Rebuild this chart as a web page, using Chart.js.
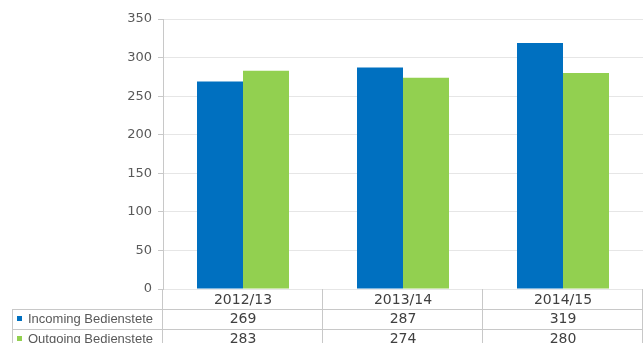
<!DOCTYPE html>
<html>
<head>
<meta charset="utf-8">
<script src="https://cdn.jsdelivr.net/npm/chart.js@4"></script>
<style>
  html, body { margin: 0; padding: 0; background: #fff; }
  #wrap { width: 644px; height: 343px; }
</style>
</head>
<body>
<div id="wrap"><canvas id="myChart" width="644" height="343"></canvas></div>
<script>
// data
const years = ['2012/13', '2013/14', '2014/15'];
const incoming = [269, 287, 319];
const outgoing = [283, 274, 280];
const seriesNames = ['Incoming Bedienstete', 'Outgoing Bedienstete'];
const seriesColors = ['#0070C0', '#92D050'];

const lineColor = '#c8c8c8';

// draws the data table under the plot, using the x scale for the columns
const dataTable = {
  id: 'dataTable',
  afterDraw(chart) {
    const ctx = chart.ctx;
    const x = chart.scales.x;
    const area = chart.chartArea;
    const rowH = 20;
    const top = area.bottom;
    const colW = (area.right - area.left) / years.length;

    ctx.save();
    ctx.strokeStyle = lineColor;
    ctx.lineWidth = 1;

    // horizontal row lines
    for (let r = 1; r <= 2; r++) {
      const y = Math.round(top + r * rowH) + 0.5;
      ctx.beginPath();
      ctx.moveTo(13, y);
      ctx.lineTo(area.right, y);
      ctx.stroke();
    }
    // left border of legend cells
    ctx.beginPath();
    ctx.moveTo(12.5, top + rowH);
    ctx.lineTo(12.5, chart.height);
    ctx.stroke();
    // column lines
    for (let c = 0; c <= years.length; c++) {
      const xx = Math.round(area.left + c * colW) - 0.5;
      ctx.beginPath();
      ctx.moveTo(xx, top);
      ctx.lineTo(xx, chart.height);
      ctx.stroke();
    }

    // header row
    ctx.fillStyle = '#404040';
    ctx.textAlign = 'center';
    ctx.textBaseline = 'middle';
    ctx.font = '14px "DejaVu Sans"';
    years.forEach((yr, i) => {
      ctx.fillText(yr, x.getPixelForValue(i), top + rowH / 2 + 1);
    });

    // series rows
    const rows = [incoming, outgoing];
    rows.forEach((vals, r) => {
      const cy = top + rowH * (r + 1) + rowH / 2;
      ctx.fillStyle = seriesColors[r];
      ctx.fillRect(17, cy - 3, 5, 5);
      ctx.fillStyle = '#595959';
      ctx.textAlign = 'left';
      ctx.font = '13px "Liberation Sans"';
      ctx.fillText(seriesNames[r], 28, cy);
      ctx.fillStyle = '#404040';
      ctx.textAlign = 'center';
      ctx.font = '14px "DejaVu Sans"';
      vals.forEach((v, i) => {
        ctx.fillText(String(v), x.getPixelForValue(i), cy);
      });
    });
    ctx.restore();
  }
};

const ctx = document.getElementById('myChart').getContext('2d');
const myChart = new Chart(ctx, {
  type: 'bar',
  data: {
    labels: years,
    datasets: [
      { label: seriesNames[0], data: incoming, backgroundColor: seriesColors[0] },
      { label: seriesNames[1], data: outgoing, backgroundColor: seriesColors[1] }
    ]
  },
  options: {
    responsive: false,
    animation: false,
    events: [],
    layout: { padding: { top: 19, bottom: 54, right: 1, left: 0 } },
    datasets: { bar: { categoryPercentage: 0.575, barPercentage: 1 } },
    plugins: { legend: { display: false }, tooltip: { enabled: false } },
    scales: {
      x: { display: false },
      y: {
        min: 0,
        max: 350,
        ticks: { stepSize: 50, color: '#595959', font: { family: 'DejaVu Sans', size: 13 }, padding: 6 },
        grid: { color: '#e6e6e6', tickLength: 5, tickColor: lineColor },
        border: { color: lineColor },
        afterFit(scale) { scale.width = 163; }
      }
    }
  },
  plugins: [dataTable]
});
</script>
</body>
</html>
